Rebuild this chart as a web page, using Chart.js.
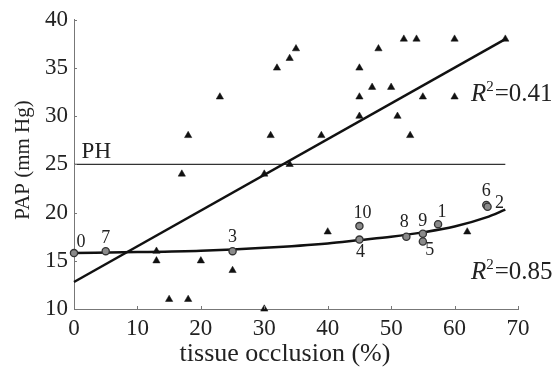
<!DOCTYPE html>
<html>
<head>
<meta charset="utf-8">
<script src="https://cdn.jsdelivr.net/npm/chart.js@4.4.1/dist/chart.umd.min.js"></script>
<style>
html,body{margin:0;padding:0;background:#fff;}
#wrap{width:557px;height:371px;position:relative;}
</style>
</head>
<body>
<div id="wrap"><canvas id="c" width="557" height="371"></canvas></div>
<script>
// ---- data ----
const triX = [13,13,15,17,18,18,20,23,25,30,30,31,32,34,34,35,39,40,45,45,45,47,48,50,51,52,53,54,55,60,60,62,68];
const triY = [16,15,11,24,28,11,15,32,14,24,10,28,35,36,25,37,28,18,35,32,30,33,37,33,30,38,28,38,32,38,32,18,38];

const circLabels = ['0','7','3','10','4','8','9','5','1','6','2'];
const circX = [0,5,25,45,45,52.4,55,55,57.4,65,65.2];
const circY = [15.8,16,16,18.6,17.2,17.5,17.8,17.0,18.8,20.8,20.6];

const fitLinX = [0,68];
const fitLinY = [12.8,38];

const fitCurX = [0,10,20,30,40,45,50,55,60,65,68];
const fitCurY = [15.8,15.9,16.05,16.35,16.8,17.15,17.5,17.95,18.55,19.5,20.3];

const phX = [0,68];
const phY = [25,25];

const xTicks = [0,10,20,30,40,50,60,70];
const yTicks = [10,15,20,25,30,35,40];

const r2Texts = ['0.41','0.85'];

function pts(xs, ys){ return xs.map((x,i)=>({x:x,y:ys[i]})); }

const SERIF = "'Times New Roman', Tinos, 'Liberation Serif', Times, serif";

// label offsets (pixels) for circle labels
const labOff = {
  '0':[7,-11],'7':[0,-13],'3':[0,-14],'10':[3,-13],'4':[1,13],'8':[-2,-14],
  '9':[0,-13],'5':[7,9],'1':[4,-12],'6':[0,-14],'2':[12,-4]
};

const overlay = {
  id:'overlay',
  afterDraw(chart){
    const ctx = chart.ctx;
    const xs = chart.scales.x, ys = chart.scales.y;
    const ca = chart.chartArea;
    ctx.save();
    ctx.strokeStyle = '#777'; ctx.lineWidth = 1;
    xTicks.forEach(v=>{
      const px = Math.round(xs.getPixelForValue(v))+0.5;
      ctx.beginPath(); ctx.moveTo(px, ca.bottom); ctx.lineTo(px, ca.bottom-3); ctx.stroke();
    });
    yTicks.forEach(v=>{
      const py = Math.round(ys.getPixelForValue(v))+0.5;
      ctx.beginPath(); ctx.moveTo(ca.left, py); ctx.lineTo(ca.left+3, py); ctx.stroke();
    });
    const meta = chart.getDatasetMeta(1);
    ctx.fillStyle = '#222';
    ctx.font = "18px " + SERIF;
    ctx.textAlign = 'center'; ctx.textBaseline = 'middle';
    meta.data.forEach((el,i)=>{
      const lab = circLabels[i];
      const o = labOff[lab] || [0,-12];
      ctx.fillText(lab, el.x + o[0], el.y + o[1]);
    });
    ctx.font = "23px " + SERIF;
    ctx.textAlign = 'left';
    ctx.fillText('PH', xs.getPixelForValue(1.2), ys.getPixelForValue(26.3));
    function r2(txt, x, y){
      ctx.textAlign='left'; ctx.textBaseline='middle';
      ctx.font = "italic 25px " + SERIF;
      ctx.fillText('R', x, y);
      let w = ctx.measureText('R').width;
      ctx.font = "15px " + SERIF;
      ctx.fillText('2', x + w, y - 7);
      w += ctx.measureText('2').width + 1;
      ctx.font = "25px " + SERIF;
      ctx.fillText('=' + txt, x + w, y);
    }
    r2(r2Texts[0], 471, 94);
    r2(r2Texts[1], 471, 272);
    ctx.fillStyle = '#222';
    ctx.font = "26px " + SERIF;
    ctx.textAlign = 'center'; ctx.textBaseline = 'middle';
    ctx.fillText('tissue occlusion (%)', 285, 354);
    ctx.save();
    ctx.translate(23, 160);
    ctx.rotate(-Math.PI/2);
    ctx.font = "21px " + SERIF;
    ctx.fillText('PAP (mm Hg)', 0, 0);
    ctx.restore();
    ctx.restore();
  }
};

new Chart(document.getElementById('c'), {
  type:'scatter',
  data:{
    datasets:[
      { data: pts(triX, triY), pointStyle:'triangle', pointRadius:4.2, backgroundColor:'#111', borderColor:'#111', borderWidth:0.5, clip:false, order:1 },
      { data: pts(circX, circY), pointStyle:'circle', pointRadius:3.6, backgroundColor:'#8a8a8a', borderColor:'#333', borderWidth:1.3, clip:false, order:0 },
      { data: pts(fitLinX, fitLinY), showLine:true, pointRadius:0, borderColor:'#111', borderWidth:2.5, fill:false, clip:false, order:2 },
      { data: pts(fitCurX, fitCurY), showLine:true, pointRadius:0, borderColor:'#111', borderWidth:2.5, fill:false, cubicInterpolationMode:'monotone', clip:false, order:2 },
      { data: pts(phX, phY), showLine:true, pointRadius:0, borderColor:'#333', borderWidth:1.3, fill:false, clip:false, order:3 }
    ]
  },
  options:{
    responsive:false, animation:false, devicePixelRatio:1,
    layout:{ padding:{ top:16, right:39, left:0, bottom:0 } },
    plugins:{ legend:{display:false}, tooltip:{enabled:false} },
    scales:{
      x:{
        type:'linear', min:0, max:70,
        afterFit(s){ s.height = 62; },
        afterBuildTicks(s){ s.ticks = xTicks.map(v=>({value:v})); },
        grid:{ display:true, drawOnChartArea:false, drawTicks:false },
        border:{ display:true, color:'#777', width:1 },
        ticks:{ padding:6, color:'#222', font:{ family:SERIF, size:23 }, maxRotation:0 }
      },
      y:{
        type:'linear', min:10, max:40,
        afterFit(s){ s.width = 74; },
        afterBuildTicks(s){ s.ticks = yTicks.map(v=>({value:v})); },
        grid:{ display:true, drawOnChartArea:false, drawTicks:false },
        border:{ display:true, color:'#777', width:1 },
        ticks:{ padding:6, color:'#222', font:{ family:SERIF, size:23 } }
      }
    }
  },
  plugins:[overlay]
});
</script>
</body>
</html>
